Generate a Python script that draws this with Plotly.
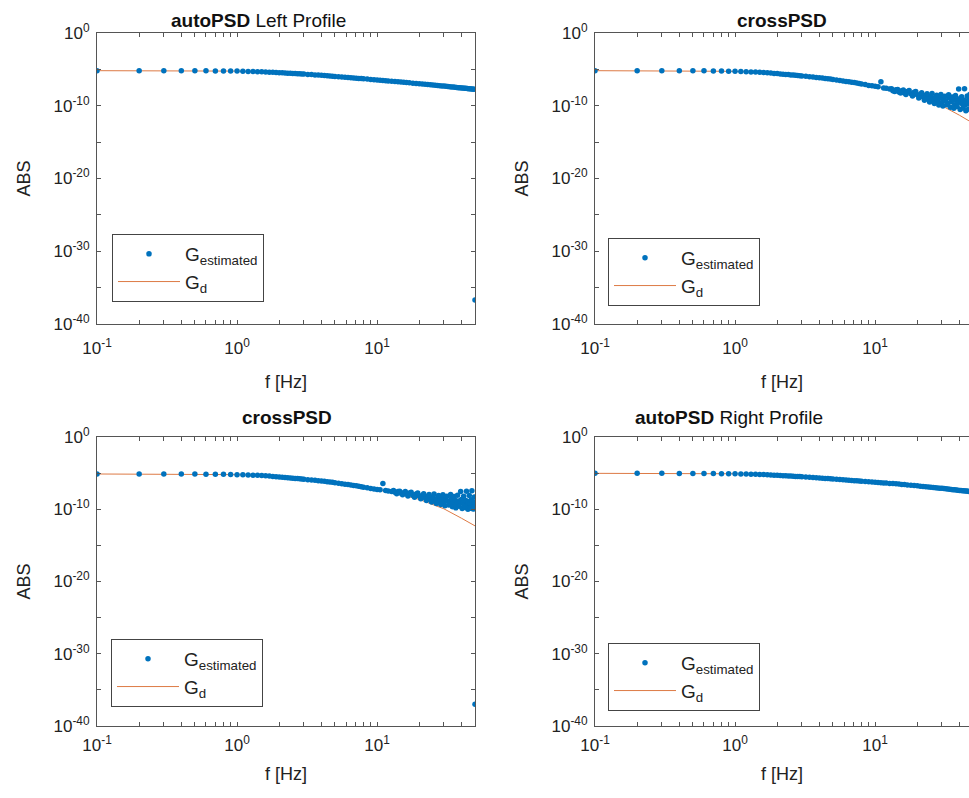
import plotly.graph_objects as go

# ---------------- data ----------------
# frequency grid of the plotted estimates [Hz]
F = [0.1, 0.2, 0.3, 0.4, 0.5, 0.6, 0.7, 0.8, 0.9, 1.0,
     1.1, 1.2, 1.3, 1.4, 1.5, 1.6, 1.7, 1.8, 1.9, 2.0,
     2.1, 2.2, 2.3, 2.4, 2.5, 2.6, 2.7, 2.8, 2.9, 3.0,
     3.2, 3.4, 3.6, 3.8, 4.0, 4.2, 4.4, 4.6, 4.8, 5.0,
     5.3, 5.6, 5.9, 6.2, 6.5, 6.8, 7.1, 7.4, 7.7, 8.0,
     8.5, 9.0, 9.5, 10, 10.5, 11, 11.5, 12,
     12.7, 13.4, 14.1, 14.8, 15.5, 16.2, 17, 18, 19, 20,
     21, 22, 23, 24, 25, 26, 27, 28, 29, 30,
     31, 32, 33, 34, 35, 36, 37, 38, 39, 40,
     41, 42, 43, 44, 45, 46, 47, 48, 49, 50]
# extra scattered estimate frequencies in the noisy crossPSD region [Hz]
EXTRA_A_F = [13.1, 14.5, 15.9, 17.5, 19.5, 21.5, 23.5, 25.5, 27.5, 29.5,
             31.5, 33.5, 35.5, 37.5, 39.5, 41.5, 43.5, 45.5, 47.5, 49.5]
EXTRA_B_F = [13.8, 15.2, 16.6, 18.5, 20.5, 22.5, 24.5, 26.5, 28.5, 30.5,
             32.5, 34.5, 36.5, 38.5, 40.5, 42.5, 44.5, 46.5, 48.5, 49.8]
# frequencies at which the target PSD G_d is read [Hz]
GD_F = [0.1, 0.2, 0.3, 0.5, 0.7, 1.0, 1.5, 2, 3, 4, 5, 7, 10, 15, 20, 30, 40, 50]

# values as log10(ABS)
auto_left_est = [-5.18, -5.18, -5.18, -5.19, -5.19, -5.20, -5.21, -5.22, -5.23, -5.24,
                 -5.26, -5.28, -5.29, -5.31, -5.33, -5.35, -5.38, -5.40, -5.43, -5.45,
                 -5.47, -5.50, -5.52, -5.54, -5.56, -5.58, -5.60, -5.61, -5.63, -5.65,
                 -5.69, -5.72, -5.76, -5.79, -5.82, -5.85, -5.88, -5.91, -5.94, -5.97,
                 -6.01, -6.05, -6.08, -6.12, -6.15, -6.18, -6.21, -6.24, -6.27, -6.29,
                 -6.34, -6.38, -6.41, -6.45, -6.49, -6.52, -6.55, -6.59,
                 -6.63, -6.67, -6.70, -6.74, -6.78, -6.81, -6.85, -6.90, -6.94, -6.98,
                 -7.02, -7.05, -7.09, -7.12, -7.16, -7.19, -7.22, -7.25, -7.27, -7.30,
                 -7.33, -7.36, -7.38, -7.41, -7.43, -7.46, -7.48, -7.51, -7.53, -7.55,
                 -7.57, -7.59, -7.61, -7.63, -7.65, -7.67, -7.69, -7.71, -7.72, -36.7]
auto_left_gd = [-5.18, -5.18, -5.18, -5.19, -5.21, -5.24, -5.33, -5.45, -5.65,
                -5.82, -5.97, -6.20, -6.45, -6.75, -6.98, -7.30, -7.55, -7.74]

cross_top_est = [-5.18, -5.18, -5.18, -5.19, -5.19, -5.20, -5.22, -5.23, -5.25, -5.27,
                 -5.30, -5.32, -5.35, -5.37, -5.40, -5.44, -5.47, -5.51, -5.55, -5.58,
                 -5.62, -5.66, -5.69, -5.72, -5.76, -5.79, -5.82, -5.85, -5.87, -5.90,
                 -5.96, -6.01, -6.06, -6.11, -6.15, -6.20, -6.25, -6.29, -6.34, -6.38,
                 -6.45, -6.52, -6.59, -6.65, -6.71, -6.76, -6.82, -6.89, -6.95, -7.01,
                 -7.09, -7.21, -7.25, -7.33, -7.40, -6.70, -7.55, -7.60,
                 -7.70, -7.95, -7.80, -8.10, -7.95, -8.25, -8.05, -8.35, -8.15, -8.50,
                 -8.45, -8.80, -8.55, -9.05, -8.70, -9.20, -8.85, -9.40, -8.95, -9.55,
                 -9.05, -9.30, -9.70, -8.90, -9.45, -9.15, -9.85, -9.25, -9.60, -9.05,
                 -9.50, -9.75, -9.20, -9.90, -9.35, -9.65, -9.10, -9.80, -9.40, -36.5]
cross_top_extra_a = [-7.65, -7.75, -7.85, -7.90, -8.05, -8.20, -8.35, -8.30, -8.55, -8.45,
                     -8.70, -8.50, -8.80, -8.60, -7.70, -8.75, -7.65, -8.65, -8.45, -8.80]
cross_top_extra_b = [-8.05, -8.25, -8.45, -8.65, -8.95, -9.25, -9.50, -9.70, -9.90, -10.05,
                     -9.85, -10.20, -10.35, -10.10, -10.50, -10.30, -10.70, -10.45, -10.60, -10.20]
cross_top_gd = [-5.18, -5.18, -5.18, -5.19, -5.22, -5.27, -5.40, -5.58, -5.90,
                -6.15, -6.38, -6.80, -7.35, -8.05, -8.70, -10.0, -11.3, -12.4]

cross_bot_est = [-5.12, -5.12, -5.12, -5.13, -5.13, -5.14, -5.16, -5.17, -5.19, -5.21,
                 -5.24, -5.26, -5.29, -5.31, -5.34, -5.38, -5.41, -5.45, -5.49, -5.52,
                 -5.56, -5.60, -5.63, -5.66, -5.70, -5.73, -5.76, -5.79, -5.81, -5.84,
                 -5.90, -5.95, -6.00, -6.05, -6.09, -6.14, -6.19, -6.23, -6.28, -6.32,
                 -6.39, -6.46, -6.53, -6.59, -6.65, -6.70, -6.76, -6.83, -6.89, -6.95,
                 -7.02, -7.12, -7.18, -7.25, -7.30, -6.45, -7.40, -7.48,
                 -7.55, -7.65, -7.55, -7.80, -7.70, -7.90, -7.75, -8.05, -7.90, -8.15,
                 -8.10, -8.40, -8.20, -8.55, -8.30, -8.70, -8.45, -8.85, -8.50, -9.00,
                 -8.60, -8.90, -9.15, -8.55, -9.05, -8.75, -9.30, -8.85, -9.20, -8.65,
                 -9.10, -9.35, -8.80, -9.45, -8.95, -9.25, -8.70, -9.40, -9.00, -37.0]
cross_bot_extra_a = [-7.40, -7.50, -7.55, -7.65, -7.75, -7.85, -7.95, -7.90, -8.10, -8.00,
                     -8.20, -7.95, -8.25, -8.05, -7.55, -8.20, -7.50, -8.10, -7.45, -8.30]
cross_bot_extra_b = [-7.85, -8.00, -8.15, -8.35, -8.55, -8.80, -9.00, -9.20, -9.35, -9.50,
                     -9.40, -9.65, -9.80, -9.60, -9.90, -9.75, -10.00, -9.85, -9.95, -9.70]
cross_bot_gd = [-5.12, -5.12, -5.12, -5.13, -5.16, -5.21, -5.34, -5.52, -5.84,
                -6.09, -6.32, -6.74, -7.29, -7.99, -8.64, -9.94, -11.24, -12.3]

auto_right_est = [-5.03, -5.03, -5.03, -5.04, -5.04, -5.05, -5.06, -5.07, -5.08, -5.09,
                  -5.11, -5.13, -5.14, -5.16, -5.18, -5.20, -5.23, -5.25, -5.28, -5.30,
                  -5.32, -5.35, -5.37, -5.39, -5.41, -5.43, -5.45, -5.46, -5.48, -5.50,
                  -5.54, -5.57, -5.61, -5.64, -5.67, -5.70, -5.73, -5.76, -5.78, -5.81,
                  -5.85, -5.89, -5.92, -5.95, -5.98, -6.01, -6.04, -6.07, -6.10, -6.12,
                  -6.16, -6.20, -6.23, -6.26, -6.29, -6.32, -6.35, -6.38,
                  -6.42, -6.45, -6.48, -6.52, -6.56, -6.59, -6.63, -6.68, -6.72, -6.76,
                  -6.80, -6.84, -6.88, -6.91, -6.95, -6.98, -7.02, -7.05, -7.08, -7.11,
                  -7.14, -7.17, -7.20, -7.23, -7.26, -7.29, -7.31, -7.34, -7.36, -7.39,
                  -7.41, -7.43, -7.45, -7.47, -7.49, -7.51, -7.53, -7.55, -7.57, -36.5]
auto_right_gd = [-5.03, -5.03, -5.03, -5.04, -5.06, -5.09, -5.18, -5.30, -5.50,
                 -5.67, -5.81, -6.04, -6.26, -6.57, -6.76, -7.11, -7.39, -7.58]

titles = ["<b>autoPSD</b> Left Profile", "<b>crossPSD</b>", "<b>crossPSD</b>", "<b>autoPSD</b> Right Profile"]
y_tick_vals = [1e-40, 1e-35, 1e-30, 1e-25, 1e-20, 1e-15, 1e-10, 1e-5, 1e0]
y_tick_text = ["10<sup>-40</sup>", "", "10<sup>-30</sup>", "", "10<sup>-20</sup>", "",
               "10<sup>-10</sup>", "", "10<sup>0</sup>"]
x_tick_vals = [0.1, 0.2, 0.3, 0.4, 0.5, 0.6, 0.7, 0.8, 0.9, 1, 2, 3, 4, 5, 6, 7, 8, 9, 10, 20, 30, 40, 50]
x_tick_text = ["10<sup>-1</sup>"] + [""] * 8 + ["10<sup>0</sup>"] + [""] * 8 + ["10<sup>1</sup>"] + [""] * 4

# ---------------- figure ----------------
W, H = 969, 798
BLUE = "#0072BD"
ORANGE = "#DD7A45"
AX = "#555555"
FONT = "Liberation Sans, Arial, sans-serif"


def p10(lst):
    return [10 ** v for v in lst]


panels = [
    dict(est=auto_left_est, ea=None, eb=None, gd=auto_left_gd),
    dict(est=cross_top_est, ea=cross_top_extra_a, eb=cross_top_extra_b, gd=cross_top_gd),
    dict(est=cross_bot_est, ea=cross_bot_extra_a, eb=cross_bot_extra_b, gd=cross_bot_gd),
    dict(est=auto_right_est, ea=None, eb=None, gd=auto_right_gd),
]
for p in panels:
    assert len(p["est"]) == len(F)
    assert len(p["gd"]) == len(GD_F)
    if p["ea"] is not None:
        assert len(p["ea"]) == len(EXTRA_A_F) and len(p["eb"]) == len(EXTRA_B_F)

# pixel boxes of the axes [left, right, top, bottom]
boxes = [(97, 475, 33, 324), (595, 973, 33, 324), (97, 475, 437, 726), (595, 973, 437, 726)]
legend_pos = [(112, 234), (608, 238), (111, 639), (608, 643)]
title_pos = [(258, 20), (782, 20), (287, 417), (729, 417)]

fig = go.Figure()
layout = dict(width=W, height=H, margin=dict(l=0, r=0, t=0, b=0),
              paper_bgcolor="white", plot_bgcolor="white",
              font=dict(family=FONT, size=16, color="#222222"),
              annotations=[])

for i, p in enumerate(panels):
    n = "" if i == 0 else str(i + 1)
    xa, ya = "x" + n, "y" + n
    lg = "legend" + n
    top_row = i < 2
    xs = list(F)
    ys = list(p["est"])
    if p["ea"] is not None:
        xs += EXTRA_A_F + EXTRA_B_F
        ys += p["ea"] + p["eb"]
    fig.add_trace(go.Scatter(x=GD_F, y=p10(p["gd"]), mode="lines",
                             line=dict(color=ORANGE, width=1),
                             name="G<sub>d</sub>", legend=lg, legendrank=2,
                             xaxis=xa, yaxis=ya))
    fig.add_trace(go.Scatter(x=xs, y=p10(ys), mode="markers",
                             marker=dict(color=BLUE, size=5.5),
                             name="G<sub>estimated</sub>", legend=lg, legendrank=1,
                             xaxis=xa, yaxis=ya))
    l, r, t, b = boxes[i]
    right_col = r > W
    x_end = min(r, W)
    xr_hi = -1 + (x_end - l) / ((475 - 97) / 2.69897)
    layout["xaxis" + n] = dict(
        type="log", range=[-1, xr_hi], domain=[l / W, x_end / W], anchor=ya,
        tickvals=x_tick_vals, ticktext=x_tick_text, ticks="inside", ticklen=4,
        tickcolor=AX, showline=True, linecolor=AX, linewidth=1, mirror="ticks",
        showgrid=False, zeroline=False, automargin=False,
        ticklabelstandoff=9 if top_row else 4,
        tickfont=dict(size=17),
        title=dict(text="f [Hz]", font=dict(size=18), standoff=17 if top_row else 12))
    layout["yaxis" + n] = dict(
        type="log", range=[-40, 0], domain=[1 - b / H, 1 - t / H], anchor=xa,
        tickvals=y_tick_vals, ticktext=y_tick_text, ticks="inside", ticklen=4,
        tickcolor=AX, showline=True, linecolor=AX, linewidth=1,
        mirror=False if right_col else "ticks", ticklabelstandoff=3,
        showgrid=False, zeroline=False, automargin=False,
        tickfont=dict(size=17), title=dict(text="ABS", font=dict(size=18), standoff=18))
    lx, ly = legend_pos[i]
    layout[lg] = dict(x=lx / W, y=1 - ly / H, xanchor="left", yanchor="top",
                      xref="paper", yref="paper",
                      bgcolor="white", bordercolor="#444444", borderwidth=1,
                      font=dict(size=19, color="#222222"), itemwidth=62,
                      tracegroupgap=0)
    tx, ty = title_pos[i]
    layout["annotations"].append(dict(text=titles[i], x=tx / W, y=1 - ty / H,
                                      xref="paper", yref="paper", showarrow=False,
                                      xanchor="center", yanchor="middle",
                                      font=dict(size=19, color="#111111")))

fig.update_layout(**layout)
fig.write_html("out.html")
